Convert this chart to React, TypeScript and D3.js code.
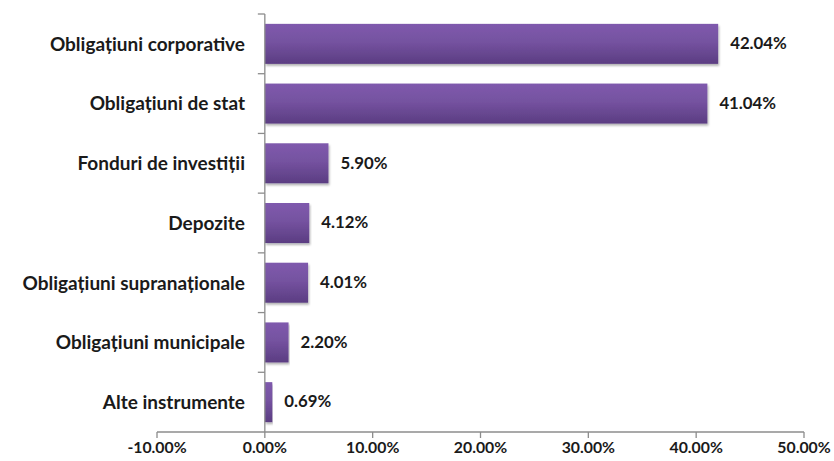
import { useEffect, useRef } from "react";
import * as d3 from "d3";

const categories = [
  "Obligațiuni corporative",
  "Obligațiuni de stat",
  "Fonduri de investiții",
  "Depozite",
  "Obligațiuni supranaționale",
  "Obligațiuni municipale",
  "Alte instrumente",
];
const values = [42.04, 41.04, 5.9, 4.12, 4.01, 2.2, 0.69];
const xTicks = [-10, 0, 10, 20, 30, 40, 50];

const W = 834;
const H = 461;

export default function App() {
  const ref = useRef<SVGSVGElement | null>(null);

  useEffect(() => {
    const svg = d3.select(ref.current);
    svg.selectAll("*").remove();

    const x = d3.scaleLinear().domain([-10, 50]).range([157, 804]);
    const y = d3.scaleBand<string>().domain(categories).range([14, 432]).paddingInner(0.33).paddingOuter(0.165);
    const step = y.step();

    const defs = svg.append("defs");
    const grad = defs
      .append("linearGradient")
      .attr("id", "barGrad")
      .attr("x1", "0%")
      .attr("y1", "0%")
      .attr("x2", "0%")
      .attr("y2", "100%");
    grad.append("stop").attr("offset", "0%").attr("stop-color", "#7f5aad");
    grad.append("stop").attr("offset", "45%").attr("stop-color", "#7552a0");
    grad.append("stop").attr("offset", "100%").attr("stop-color", "#5b3d82");
    const f = defs.append("filter").attr("id", "shadow").attr("x", "-5%").attr("y", "-10%").attr("width", "110%").attr("height", "130%");
    f.append("feDropShadow").attr("dx", 1).attr("dy", 2).attr("stdDeviation", 1.2).attr("flood-color", "#000").attr("flood-opacity", 0.3);

    const font = "Lato, 'Open Sans', sans-serif";

    // bars
    svg
      .append("g")
      .selectAll("rect")
      .data(values)
      .join("rect")
      .attr("x", x(0))
      .attr("y", (_, i) => y(categories[i]) ?? 0)
      .attr("width", (d) => x(d) - x(0))
      .attr("height", y.bandwidth())
      .attr("fill", "url(#barGrad)")
      .attr("filter", "url(#shadow)");

    // value labels
    svg
      .append("g")
      .selectAll("text")
      .data(values)
      .join("text")
      .attr("x", (d) => x(d) + 12)
      .attr("y", (_, i) => (y(categories[i]) ?? 0) + y.bandwidth() / 2 + 1)
      .attr("dominant-baseline", "middle")
      .attr("font-family", font)
      .attr("font-weight", "bold")
      .attr("font-size", 16.8)
      .attr("fill", "#1a1a1a")
      .text((d) => d.toFixed(2) + "%");

    // category labels
    svg
      .append("g")
      .selectAll("text")
      .data(categories)
      .join("text")
      .attr("x", 245)
      .attr("y", (d) => (y(d) ?? 0) + y.bandwidth() / 2 + 2)
      .attr("text-anchor", "end")
      .attr("dominant-baseline", "middle")
      .attr("font-family", font)
      .attr("font-weight", "bold")
      .attr("font-size", 19)
      .attr("fill", "#1a1a1a")
      .text((d) => d);

    const axisColor = "#8c8c8c";
    // y axis line + category boundary ticks
    svg
      .append("line")
      .attr("x1", x(0))
      .attr("x2", x(0))
      .attr("y1", 14)
      .attr("y2", 432)
      .attr("stroke", axisColor)
      .attr("stroke-width", 1.3);
    d3.range(categories.length).forEach((i) => {
      const yy = 14 + i * step;
      svg
        .append("line")
        .attr("x1", x(0) - 7)
        .attr("x2", x(0))
        .attr("y1", yy)
        .attr("y2", yy)
        .attr("stroke", axisColor)
        .attr("stroke-width", 1.3);
    });

    // x axis
    const xa = svg.append("g").attr("transform", "translate(0,432)");
    xa.append("line")
      .attr("x1", x(-10))
      .attr("x2", x(50))
      .attr("stroke", axisColor)
      .attr("stroke-width", 1.3);
    xTicks.forEach((t) => {
      xa.append("line")
        .attr("x1", x(t))
        .attr("x2", x(t))
        .attr("y1", 0)
        .attr("y2", 6)
        .attr("stroke", axisColor)
        .attr("stroke-width", 1.3);
      xa.append("text")
        .attr("x", x(t))
        .attr("y", 17)
        .attr("text-anchor", "middle")
        .attr("dominant-baseline", "middle")
        .attr("font-family", font)
        .attr("font-weight", "bold")
        .attr("font-size", 15.8)
        .attr("fill", "#1a1a1a")
        .text(t.toFixed(2) + "%");
    });
  }, []);

  return (
    <svg
      ref={ref}
      width={W}
      height={H}
      style={{ position: "absolute", left: 0, top: 0, background: "#fff" }}
    />
  );
}
